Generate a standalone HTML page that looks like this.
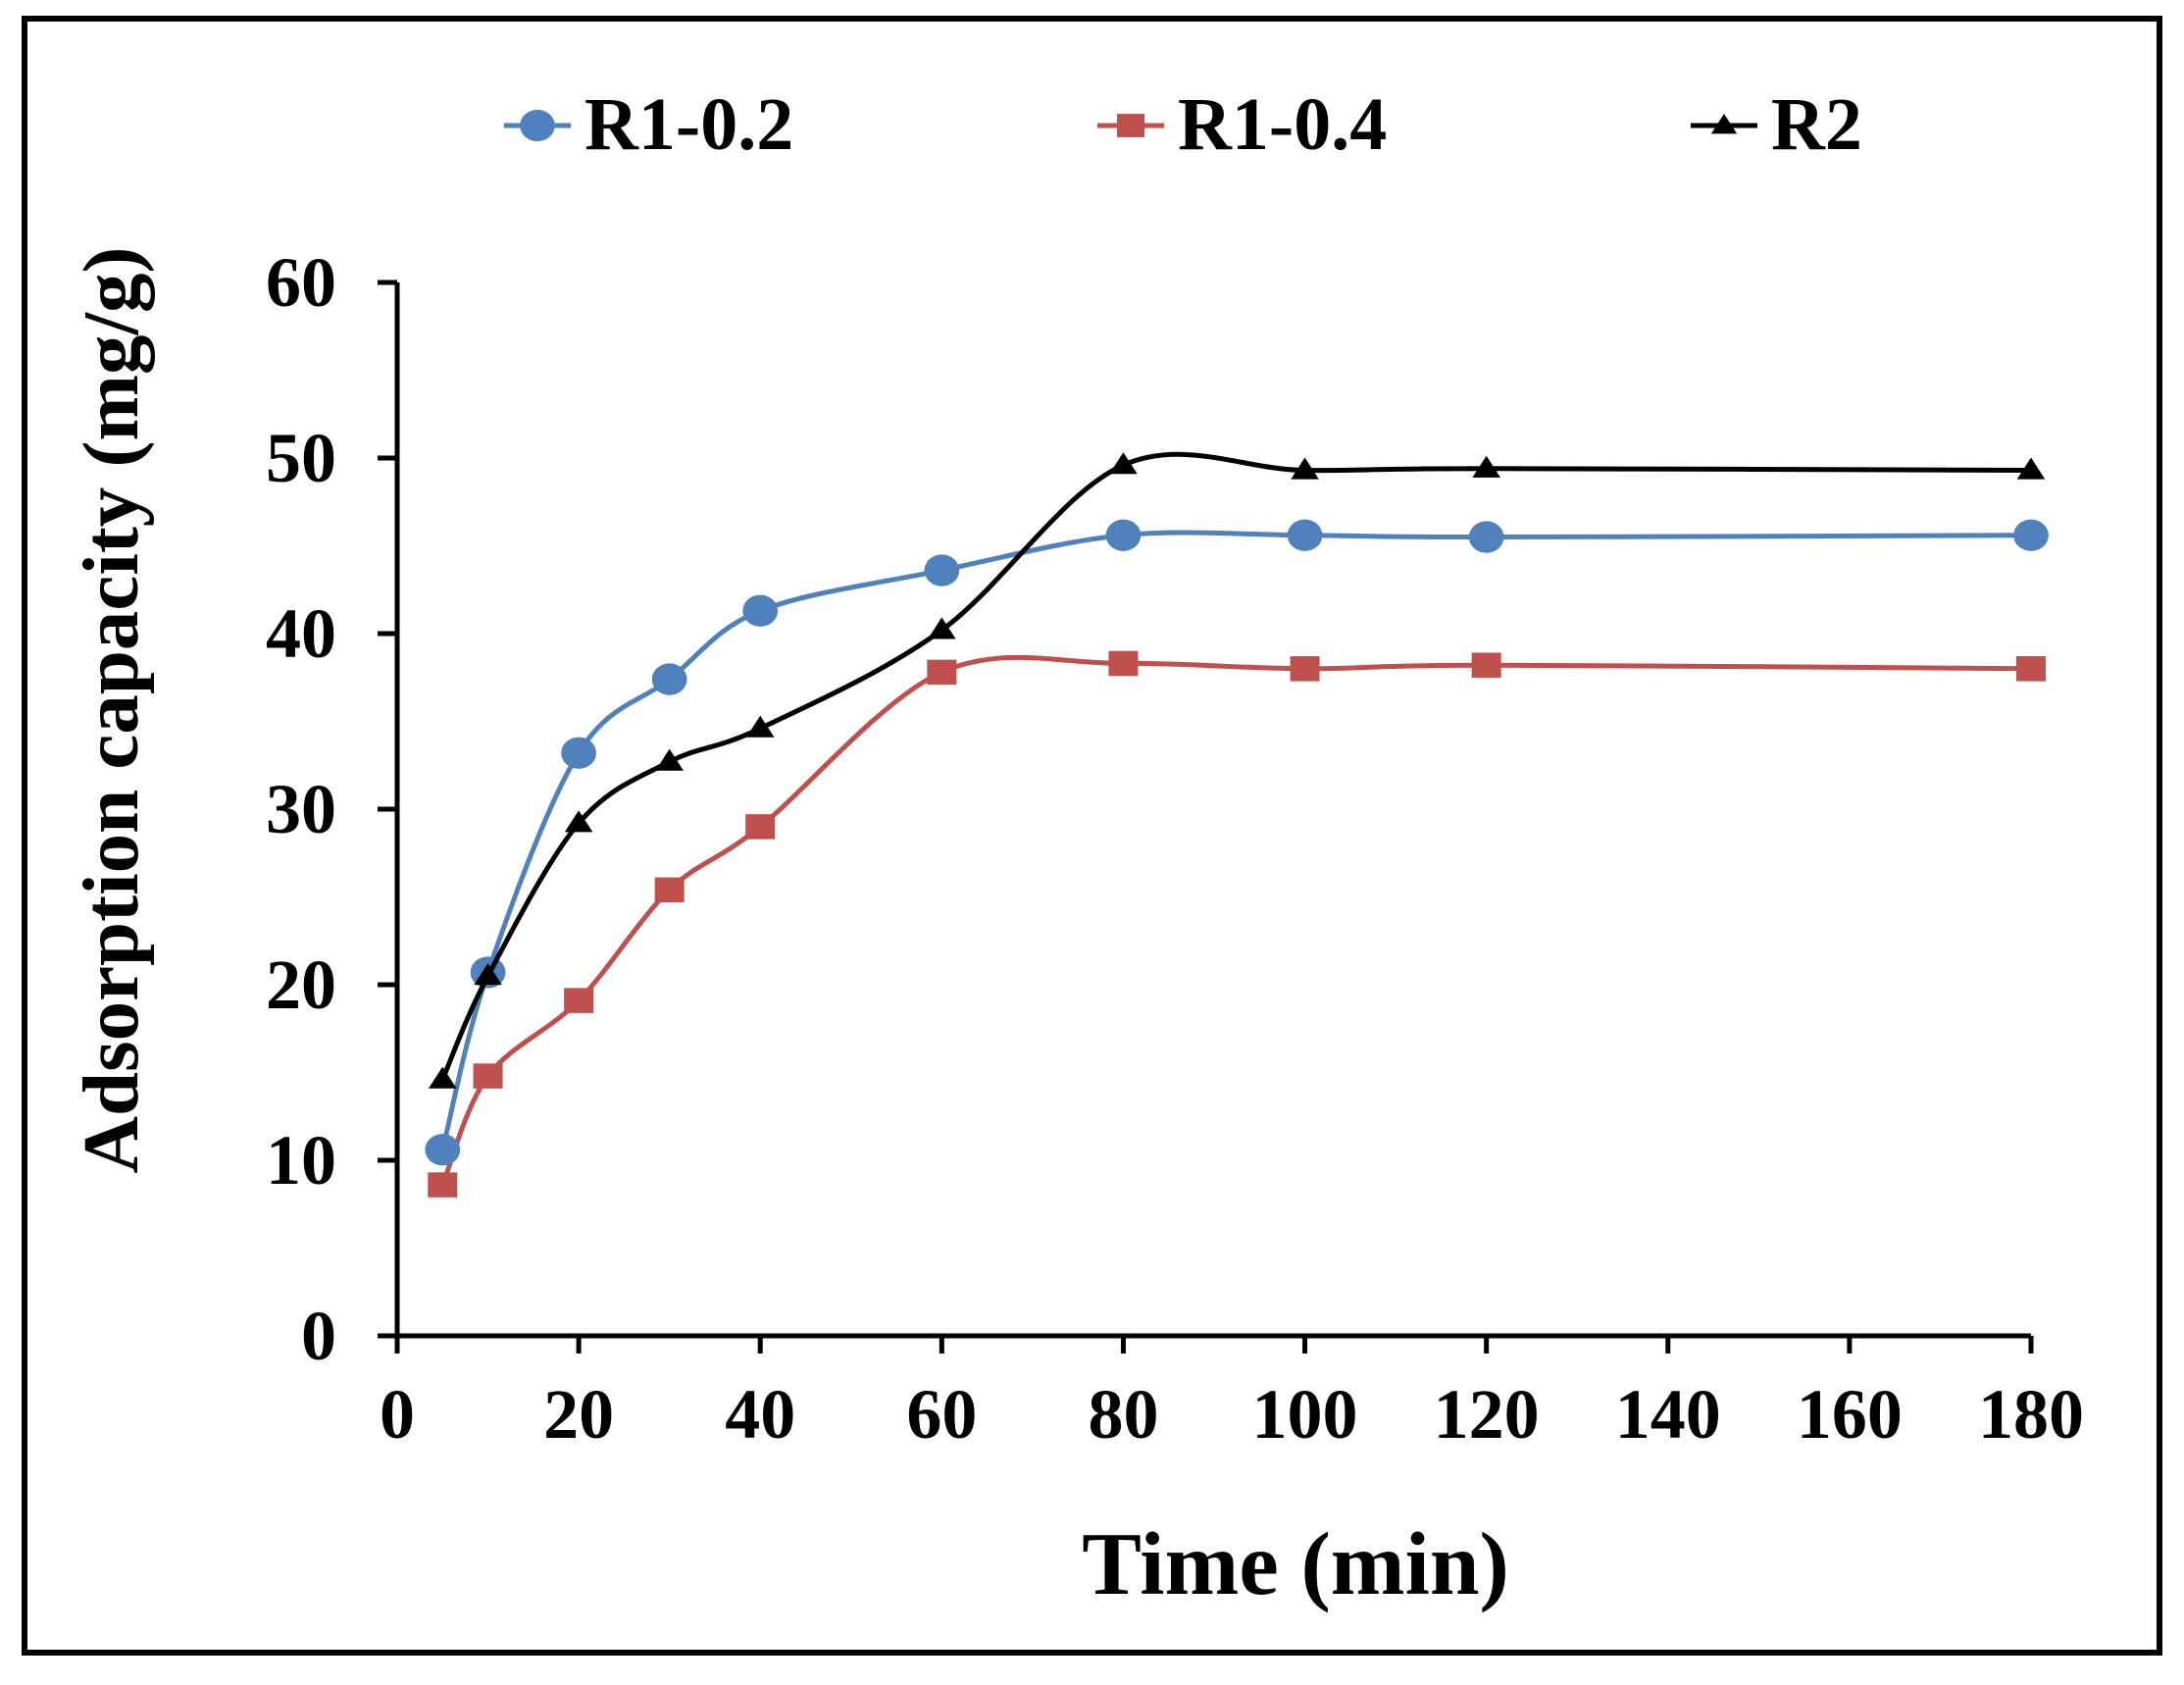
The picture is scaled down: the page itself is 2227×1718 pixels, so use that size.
<!DOCTYPE html>
<html><head><meta charset="utf-8"><style>
html,body{margin:0;padding:0;background:#fff;}
svg{display:block;}
text{font-family:"Liberation Serif",serif;font-weight:bold;fill:#000;}
</style></head><body>
<svg id="chart" width="2227" height="1718" viewBox="0 0 2227 1718" xmlns="http://www.w3.org/2000/svg">
<rect x="25" y="19" width="2177" height="1666" fill="#fff" stroke="#000" stroke-width="6"/>
<g id="axes"></g>
<g id="series"></g>
<g id="legend"></g>
<text x="1321" y="1625" font-size="91" text-anchor="middle">Time (min)</text>
<text transform="translate(140,724) rotate(-90)" font-size="81" text-anchor="middle">Adsorption capacity (mg/g)</text>
</svg>
<script>
const xValues = [5, 10, 20, 30, 40, 60, 80, 100, 120, 180];
const seriesR102 = [10.6, 20.7, 33.2, 37.4, 41.3, 43.6, 45.6, 45.6, 45.5, 45.6];
const seriesR104 = [8.6, 14.8, 19.1, 25.4, 29.0, 37.8, 38.3, 38.0, 38.2, 38.0];
const seriesR2 = [14.6, 20.5, 29.2, 32.7, 34.6, 40.2, 49.6, 49.3, 49.4, 49.3];
const xTicks = [0, 20, 40, 60, 80, 100, 120, 140, 160, 180];
const yTicks = [0, 10, 20, 30, 40, 50, 60];
const seriesNames = ["R1-0.2", "R1-0.4", "R2"];

const NS = "http://www.w3.org/2000/svg";
const X0 = 405, X1 = 2071, Y0 = 1362, Y1 = 288;
function sx(v){ return X0 + (v - 0) / 180 * (X1 - X0); }
function sy(v){ return Y0 - (v - 0) / 60 * (Y0 - Y1); }
function mk(tag, attrs, parent){
  const e = document.createElementNS(NS, tag);
  for (const k in attrs) e.setAttribute(k, attrs[k]);
  parent.appendChild(e);
  return e;
}
const axes = document.getElementById('axes');
let el;
el = mk('line', {x1:X0, y1:Y1, x2:X0, y2:Y0+2, stroke:'#000', 'stroke-width':5}, axes);


el = mk('line', {x1:X0-20, y1:Y0, x2:X1, y2:Y0, stroke:'#000', 'stroke-width':5}, axes);


yTicks.forEach(t => {
  const tk = mk('line', {x1:X0-20, y1:sy(t), x2:X0, y2:sy(t), stroke:'#000', 'stroke-width':5}, axes);
  
  
  const lb = mk('text', {x:343, y:sy(t)+24, 'font-size':72, 'text-anchor':'end'}, axes);
  lb.textContent = t;
  
  
});
xTicks.forEach(t => {
  const tk = mk('line', {x1:sx(t), y1:Y0, x2:sx(t), y2:Y0+18, stroke:'#000', 'stroke-width':5}, axes);
  
  
  const lb = mk('text', {x:sx(t), y:1466, 'font-size':72, 'text-anchor':'middle'}, axes);
  lb.textContent = t;
  
  
});

function smoothPath(pts){
  let d = `M${pts[0][0]},${pts[0][1]}`;
  for (let i = 0; i < pts.length - 1; i++){
    const p0 = pts[i-1] || pts[i], p1 = pts[i], p2 = pts[i+1], p3 = pts[i+2] || p2;
    const t = 1/6;
    const c1 = [p1[0] + (p2[0]-p0[0])*t, p1[1] + (p2[1]-p0[1])*t];
    const c2 = [p2[0] - (p3[0]-p1[0])*t, p2[1] - (p3[1]-p1[1])*t];
    d += ` C${c1[0]},${c1[1]} ${c2[0]},${c2[1]} ${p2[0]},${p2[1]}`;
  }
  return d;
}
function marker(kind, x, y, color, parent, size){
  let m;
  if (kind === 'circle') m = mk('ellipse', {cx:x, cy:y, rx:size*1.05, ry:size*0.95, fill:color}, parent);
  else if (kind === 'square') m = mk('rect', {x:x-size, y:y-size*0.85, width:size*2, height:size*1.7, fill:color}, parent);
  else m = mk('polygon', {points:`${x},${y-size} ${x+size*1.1},${y+size*0.7} ${x-size*1.1},${y+size*0.7}`, fill:color}, parent);
  return m;
}
const seriesG = document.getElementById('series');
const defs = [
  {vals: seriesR104, color:'#c0504d', kind:'square', name:'series-r1-0-4', size:15},
  {vals: seriesR102, color:'#4f81bd', kind:'circle', name:'series-r1-0-2', size:17},
  {vals: seriesR2, color:'#000000', kind:'triangle', name:'series-r2', size:13}
];
defs.forEach(s => {
  const g = mk('g', {}, seriesG);
  
  
  const pts = xValues.map((x, i) => [sx(x), sy(s.vals[i])]);
  const p = mk('path', {d:smoothPath(pts), fill:'none', stroke:s.color, 'stroke-width':5}, g);
  
  
  pts.forEach(pt => {
    const m = marker(s.kind, pt[0], pt[1], s.color, g, s.size);
    
    
  });
});

const legend = document.getElementById('legend');
const legDefs = [
  {x:514, color:'#4f81bd', kind:'circle', size:17},
  {x:1119, color:'#c0504d', kind:'square', size:14},
  {x:1724, color:'#000000', kind:'triangle', size:12}
];
legDefs.forEach((L, i) => {
  const g = mk('g', {}, legend);
  
  
  mk('line', {x1:L.x, y1:128, x2:L.x+68, y2:128, stroke:L.color, 'stroke-width':5}, g);
  marker(L.kind, L.x+34, 128, L.color, g, L.size);
  const t = mk('text', {x:L.x+82, y:152, 'font-size':76}, g);
  t.textContent = seriesNames[i];
});
</script>
</body></html>
